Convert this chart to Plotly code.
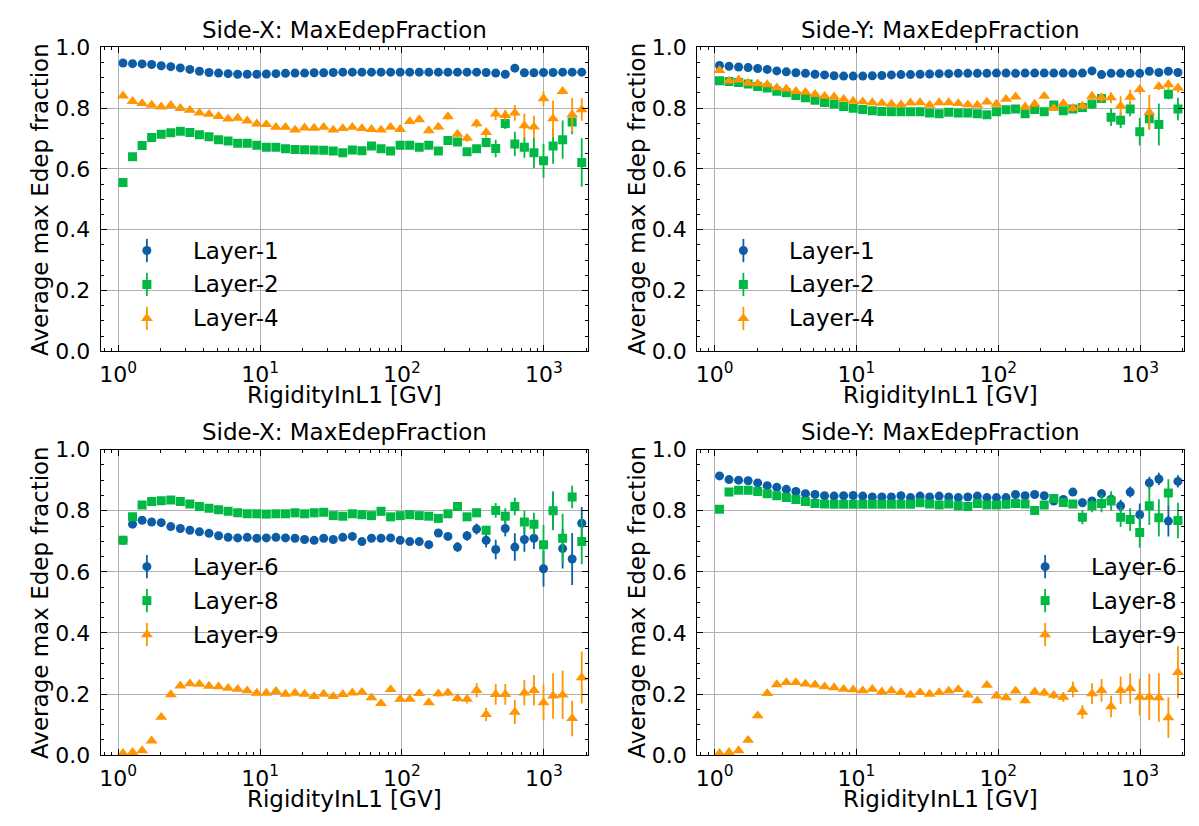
import plotly.graph_objects as go

W, H = 1199, 826
FONT = "DejaVu Sans"
BLUE, GREEN, ORANGE = "#0C5DA5", "#00B945", "#FF9500"

# Rigidity bin centres [GV]
rigidity = [1.081, 1.262, 1.474, 1.721, 2.010, 2.347, 2.741, 3.200, 3.737, 4.365,
            5.097, 5.952, 6.951, 8.117, 9.479, 11.07, 12.93, 15.10, 17.63, 20.59,
            24.04, 28.08, 32.79, 38.29, 44.71, 52.21, 60.97, 71.21, 83.15, 97.10,
            113.4, 132.4, 154.6, 180.6, 210.9, 246.3, 287.6, 335.9, 392.2, 458.0,
            534.9, 624.6, 729.4, 851.8, 994.7, 1162, 1357, 1584, 1850]

# ---- Side-X, layers 1 / 2 / 4 ----
sideX_L1 = [0.948, 0.946, 0.945, 0.943, 0.939, 0.936, 0.932, 0.927, 0.921, 0.917,
            0.915, 0.913, 0.911, 0.911, 0.911, 0.912, 0.913, 0.914, 0.915, 0.915,
            0.916, 0.916, 0.917, 0.918, 0.918, 0.918, 0.918, 0.918, 0.918, 0.918,
            0.918, 0.918, 0.918, 0.918, 0.918, 0.918, 0.918, 0.918, 0.917, 0.915,
            0.911, 0.931, 0.916, 0.916, 0.917, 0.917, 0.918, 0.918, 0.918]
sideX_L1_err = [0.002, 0.002, 0.002, 0.002, 0.002, 0.002, 0.002, 0.002, 0.002, 0.002,
                0.002, 0.002, 0.002, 0.002, 0.002, 0.002, 0.002, 0.002, 0.002, 0.002,
                0.002, 0.002, 0.002, 0.002, 0.002, 0.002, 0.002, 0.002, 0.002, 0.002,
                0.002, 0.002, 0.002, 0.002, 0.002, 0.002, 0.003, 0.003, 0.003, 0.004,
                0.004, 0.005, 0.005, 0.006, 0.006, 0.007, 0.008, 0.009, 0.010]
sideX_L2 = [0.555, 0.640, 0.677, 0.703, 0.714, 0.719, 0.724, 0.720, 0.712, 0.706,
            0.696, 0.692, 0.684, 0.684, 0.678, 0.671, 0.671, 0.666, 0.664, 0.663,
            0.662, 0.661, 0.659, 0.653, 0.662, 0.660, 0.675, 0.666, 0.659, 0.678,
            0.678, 0.671, 0.678, 0.659, 0.693, 0.688, 0.656, 0.666, 0.687, 0.667,
            0.749, 0.682, 0.671, 0.653, 0.627, 0.675, 0.696, 0.754, 0.621]
sideX_L2_err = [0.002, 0.002, 0.002, 0.002, 0.002, 0.002, 0.002, 0.002, 0.002, 0.002,
                0.002, 0.002, 0.002, 0.002, 0.002, 0.002, 0.003, 0.003, 0.003, 0.003,
                0.003, 0.003, 0.003, 0.004, 0.004, 0.004, 0.004, 0.005, 0.005, 0.005,
                0.006, 0.007, 0.008, 0.009, 0.010, 0.011, 0.012, 0.014, 0.016, 0.029,
                0.018, 0.040, 0.034, 0.050, 0.056, 0.058, 0.063, 0.040, 0.080]
sideX_L4 = [0.840, 0.822, 0.815, 0.810, 0.804, 0.809, 0.799, 0.793, 0.784, 0.780,
            0.773, 0.764, 0.767, 0.758, 0.748, 0.746, 0.737, 0.737, 0.728, 0.735,
            0.734, 0.737, 0.728, 0.733, 0.737, 0.733, 0.730, 0.728, 0.737, 0.730,
            0.756, 0.762, 0.726, 0.738, 0.772, 0.714, 0.701, 0.749, 0.720, 0.781,
            0.776, 0.784, 0.742, 0.738, 0.831, 0.765, 0.855, 0.778, 0.795]
sideX_L4_err = [0.002, 0.002, 0.002, 0.002, 0.002, 0.002, 0.002, 0.002, 0.002, 0.002,
                0.002, 0.002, 0.002, 0.002, 0.002, 0.002, 0.003, 0.003, 0.003, 0.003,
                0.003, 0.003, 0.003, 0.004, 0.004, 0.004, 0.004, 0.005, 0.005, 0.005,
                0.006, 0.007, 0.008, 0.009, 0.010, 0.011, 0.012, 0.013, 0.015, 0.021,
                0.018, 0.026, 0.040, 0.037, 0.024, 0.060, 0.010, 0.055, 0.037]

# ---- Side-Y, layers 1 / 2 / 4 ----
sideY_L1 = [0.940, 0.937, 0.935, 0.933, 0.930, 0.927, 0.922, 0.919, 0.916, 0.914,
            0.911, 0.909, 0.906, 0.905, 0.905, 0.905, 0.906, 0.907, 0.909, 0.910,
            0.910, 0.911, 0.912, 0.913, 0.913, 0.914, 0.914, 0.914, 0.914, 0.915,
            0.915, 0.914, 0.915, 0.915, 0.915, 0.915, 0.915, 0.914, 0.915, 0.922,
            0.910, 0.914, 0.914, 0.914, 0.914, 0.921, 0.917, 0.921, 0.917]
sideY_L1_err = [0.002, 0.002, 0.002, 0.002, 0.002, 0.002, 0.002, 0.002, 0.002, 0.002,
                0.002, 0.002, 0.002, 0.002, 0.002, 0.002, 0.002, 0.002, 0.002, 0.002,
                0.002, 0.002, 0.002, 0.002, 0.002, 0.002, 0.002, 0.002, 0.002, 0.002,
                0.002, 0.002, 0.002, 0.002, 0.002, 0.002, 0.003, 0.003, 0.003, 0.004,
                0.004, 0.005, 0.005, 0.006, 0.006, 0.007, 0.008, 0.009, 0.010]
sideY_L2 = [0.890, 0.887, 0.884, 0.879, 0.871, 0.866, 0.855, 0.850, 0.841, 0.834,
            0.826, 0.818, 0.813, 0.805, 0.799, 0.795, 0.791, 0.789, 0.788, 0.788,
            0.788, 0.788, 0.784, 0.781, 0.786, 0.784, 0.784, 0.781, 0.778, 0.788,
            0.794, 0.797, 0.781, 0.795, 0.788, 0.810, 0.791, 0.797, 0.802, 0.813,
            0.831, 0.770, 0.760, 0.797, 0.722, 0.765, 0.746, 0.845, 0.797]
sideY_L2_err = [0.002, 0.002, 0.002, 0.002, 0.002, 0.002, 0.002, 0.002, 0.002, 0.002,
                0.002, 0.002, 0.002, 0.002, 0.002, 0.002, 0.002, 0.002, 0.002, 0.002,
                0.003, 0.003, 0.003, 0.003, 0.003, 0.003, 0.004, 0.004, 0.004, 0.005,
                0.005, 0.006, 0.006, 0.007, 0.008, 0.009, 0.010, 0.012, 0.014, 0.016,
                0.014, 0.029, 0.026, 0.024, 0.045, 0.034, 0.069, 0.016, 0.037]
sideY_L4 = [0.924, 0.889, 0.893, 0.882, 0.880, 0.877, 0.867, 0.863, 0.855, 0.852,
            0.845, 0.839, 0.837, 0.829, 0.823, 0.821, 0.818, 0.816, 0.813, 0.811,
            0.817, 0.818, 0.810, 0.818, 0.818, 0.815, 0.811, 0.810, 0.820, 0.813,
            0.829, 0.837, 0.804, 0.813, 0.839, 0.799, 0.815, 0.799, 0.807, 0.839,
            0.834, 0.834, 0.807, 0.836, 0.861, 0.786, 0.871, 0.877, 0.866]
sideY_L4_err = [0.002, 0.002, 0.002, 0.002, 0.002, 0.002, 0.002, 0.002, 0.002, 0.002,
                0.002, 0.002, 0.002, 0.002, 0.002, 0.002, 0.002, 0.002, 0.002, 0.002,
                0.003, 0.003, 0.003, 0.003, 0.003, 0.003, 0.004, 0.004, 0.004, 0.005,
                0.005, 0.006, 0.006, 0.007, 0.007, 0.008, 0.009, 0.010, 0.012, 0.015,
                0.015, 0.018, 0.032, 0.024, 0.015, 0.058, 0.012, 0.015, 0.015]

# ---- Side-X, layers 6 / 8 / 9 ----
sideX_L6 = [0.703, 0.756, 0.769, 0.763, 0.761, 0.748, 0.742, 0.736, 0.731, 0.726,
            0.718, 0.713, 0.711, 0.713, 0.710, 0.711, 0.713, 0.711, 0.710, 0.706,
            0.703, 0.710, 0.706, 0.713, 0.716, 0.699, 0.710, 0.710, 0.711, 0.703,
            0.699, 0.699, 0.689, 0.727, 0.716, 0.681, 0.718, 0.740, 0.703, 0.673,
            0.742, 0.681, 0.706, 0.710, 0.610, 0.800, 0.676, 0.642, 0.759]
sideX_L6_err = [0.002, 0.002, 0.002, 0.002, 0.002, 0.002, 0.002, 0.002, 0.002, 0.002,
                0.002, 0.002, 0.002, 0.002, 0.002, 0.002, 0.003, 0.003, 0.003, 0.003,
                0.003, 0.003, 0.003, 0.004, 0.004, 0.004, 0.004, 0.005, 0.005, 0.005,
                0.005, 0.006, 0.008, 0.010, 0.012, 0.016, 0.016, 0.018, 0.023, 0.032,
                0.026, 0.045, 0.040, 0.035, 0.058, 0.060, 0.065, 0.085, 0.053]
sideX_L8 = [0.703, 0.780, 0.819, 0.830, 0.833, 0.835, 0.830, 0.822, 0.814, 0.808,
            0.803, 0.798, 0.793, 0.790, 0.790, 0.789, 0.790, 0.790, 0.793, 0.790,
            0.793, 0.795, 0.784, 0.782, 0.790, 0.787, 0.784, 0.798, 0.780, 0.784,
            0.787, 0.784, 0.782, 0.775, 0.790, 0.814, 0.780, 0.793, 0.736, 0.801,
            0.782, 0.814, 0.763, 0.756, 0.689, 0.800, 0.710, 0.845, 0.699]
sideX_L8_err = [0.002, 0.002, 0.002, 0.002, 0.002, 0.002, 0.002, 0.002, 0.002, 0.002,
                0.002, 0.002, 0.002, 0.002, 0.002, 0.002, 0.003, 0.003, 0.003, 0.003,
                0.003, 0.003, 0.003, 0.004, 0.004, 0.004, 0.004, 0.005, 0.005, 0.005,
                0.005, 0.006, 0.007, 0.008, 0.009, 0.010, 0.011, 0.012, 0.015, 0.024,
                0.026, 0.029, 0.037, 0.037, 0.064, 0.064, 0.080, 0.037, 0.074]
sideX_L9 = [0.006, 0.009, 0.015, 0.047, 0.124, 0.198, 0.227, 0.234, 0.232, 0.226,
            0.224, 0.219, 0.216, 0.211, 0.203, 0.203, 0.209, 0.200, 0.203, 0.200,
            0.192, 0.200, 0.192, 0.199, 0.204, 0.206, 0.188, 0.169, 0.215, 0.183,
            0.183, 0.202, 0.172, 0.201, 0.204, 0.186, 0.183, 0.212, 0.133, 0.199,
            0.199, 0.141, 0.204, 0.212, 0.172, 0.194, 0.197, 0.120, 0.254]
sideX_L9_err = [0.002, 0.002, 0.002, 0.002, 0.002, 0.002, 0.002, 0.002, 0.002, 0.002,
                0.002, 0.002, 0.002, 0.002, 0.002, 0.002, 0.003, 0.003, 0.003, 0.003,
                0.003, 0.003, 0.003, 0.004, 0.004, 0.004, 0.004, 0.005, 0.005, 0.005,
                0.005, 0.006, 0.008, 0.009, 0.010, 0.012, 0.014, 0.023, 0.022, 0.034,
                0.034, 0.039, 0.042, 0.050, 0.058, 0.074, 0.079, 0.058, 0.085]

# ---- Side-Y, layers 6 / 8 / 9 ----
sideY_L6 = [0.914, 0.902, 0.900, 0.898, 0.891, 0.882, 0.877, 0.870, 0.863, 0.856,
            0.853, 0.849, 0.848, 0.849, 0.850, 0.848, 0.845, 0.845, 0.845, 0.849,
            0.843, 0.848, 0.845, 0.848, 0.845, 0.843, 0.845, 0.848, 0.843, 0.843,
            0.843, 0.853, 0.849, 0.853, 0.849, 0.832, 0.837, 0.861, 0.826, 0.832,
            0.856, 0.838, 0.816, 0.861, 0.787, 0.891, 0.904, 0.766, 0.896]
sideY_L6_err = [0.002, 0.002, 0.002, 0.002, 0.002, 0.002, 0.002, 0.002, 0.002, 0.002,
                0.002, 0.002, 0.002, 0.002, 0.002, 0.002, 0.002, 0.002, 0.002, 0.002,
                0.003, 0.003, 0.003, 0.003, 0.003, 0.003, 0.004, 0.004, 0.004, 0.005,
                0.005, 0.005, 0.006, 0.006, 0.007, 0.008, 0.010, 0.012, 0.014, 0.012,
                0.015, 0.015, 0.020, 0.018, 0.037, 0.020, 0.020, 0.050, 0.020]
sideY_L8 = [0.805, 0.861, 0.867, 0.867, 0.863, 0.856, 0.849, 0.843, 0.837, 0.830,
            0.824, 0.822, 0.821, 0.821, 0.821, 0.821, 0.821, 0.821, 0.821, 0.821,
            0.821, 0.826, 0.822, 0.819, 0.822, 0.816, 0.814, 0.824, 0.819, 0.819,
            0.821, 0.824, 0.822, 0.801, 0.819, 0.840, 0.827, 0.822, 0.779, 0.816,
            0.824, 0.832, 0.779, 0.771, 0.729, 0.816, 0.777, 0.858, 0.768]
sideY_L8_err = [0.002, 0.002, 0.002, 0.002, 0.002, 0.002, 0.002, 0.002, 0.002, 0.002,
                0.002, 0.002, 0.002, 0.002, 0.002, 0.002, 0.002, 0.002, 0.002, 0.002,
                0.003, 0.003, 0.003, 0.003, 0.003, 0.003, 0.004, 0.004, 0.004, 0.005,
                0.005, 0.006, 0.007, 0.010, 0.008, 0.009, 0.010, 0.012, 0.023, 0.021,
                0.029, 0.032, 0.032, 0.037, 0.050, 0.063, 0.061, 0.045, 0.058]
sideY_L9 = [0.006, 0.009, 0.015, 0.049, 0.129, 0.202, 0.231, 0.238, 0.238, 0.233,
            0.230, 0.224, 0.221, 0.216, 0.214, 0.211, 0.216, 0.207, 0.211, 0.205,
            0.197, 0.205, 0.200, 0.205, 0.210, 0.215, 0.197, 0.178, 0.229, 0.194,
            0.188, 0.210, 0.178, 0.207, 0.204, 0.196, 0.190, 0.215, 0.141, 0.201,
            0.212, 0.159, 0.212, 0.218, 0.190, 0.190, 0.188, 0.123, 0.271]
sideY_L9_err = [0.002, 0.002, 0.002, 0.002, 0.002, 0.002, 0.002, 0.002, 0.002, 0.002,
                0.002, 0.002, 0.002, 0.002, 0.002, 0.002, 0.003, 0.003, 0.003, 0.003,
                0.003, 0.003, 0.003, 0.004, 0.004, 0.004, 0.004, 0.005, 0.005, 0.005,
                0.005, 0.006, 0.008, 0.009, 0.010, 0.012, 0.015, 0.026, 0.023, 0.034,
                0.037, 0.035, 0.045, 0.050, 0.060, 0.076, 0.079, 0.066, 0.085]

x_tickvals = [1, 10, 100, 1000]
x_ticktext = ["10<sup>0</sup>", "10<sup>1</sup>", "10<sup>2</sup>", "10<sup>3</sup>"]
y_tickvals = [0.0, 0.2, 0.4, 0.6, 0.8, 1.0]
x_range_log = [-0.124, 3.31]

STYLES = [("circle", BLUE, 9), ("square", GREEN, 9), ("triangle-up", ORANGE, 10.5)]

# panel geometry in pixels: left, right, top, bottom; legend marker x and first row y
panels = [
    dict(title="Side-X: MaxEdepFraction", box=(99.7, 587.3, 36.3, 350),
         series=[("Layer-1", sideX_L1, sideX_L1_err), ("Layer-2", sideX_L2, sideX_L2_err),
                 ("Layer-4", sideX_L4, sideX_L4_err)], leg=(146, 246)),
    dict(title="Side-Y: MaxEdepFraction", box=(696.7, 1184, 36.3, 350),
         series=[("Layer-1", sideY_L1, sideY_L1_err), ("Layer-2", sideY_L2, sideY_L2_err),
                 ("Layer-4", sideY_L4, sideY_L4_err)], leg=(743, 246)),
    dict(title="Side-X: MaxEdepFraction", box=(99.7, 587.3, 451.3, 766.3),
         series=[("Layer-6", sideX_L6, sideX_L6_err), ("Layer-8", sideX_L8, sideX_L8_err),
                 ("Layer-9", sideX_L9, sideX_L9_err)], leg=(146, 572)),
    dict(title="Side-Y: MaxEdepFraction", box=(696.7, 1184, 451.3, 766.3),
         series=[("Layer-6", sideY_L6, sideY_L6_err), ("Layer-8", sideY_L8, sideY_L8_err),
                 ("Layer-9", sideY_L9, sideY_L9_err)], leg=(1045, 572)),
]


def px(x):
    return x / W


def py(y):
    return (H - y) / H


fig = go.Figure()
annotations, shapes = [], []
layout_axes = {}

for i, p in enumerate(panels, start=1):
    xa = "x" if i == 1 else f"x{i}"
    ya = "y" if i == 1 else f"y{i}"
    l, r, t, b = p["box"]
    for (name, vals, errs), (sym, col, size) in zip(p["series"], STYLES):
        fig.add_trace(go.Scatter(
            x=rigidity, y=vals, mode="markers", name=name, xaxis=xa, yaxis=ya,
            marker=dict(symbol=sym, color=col, size=size, line=dict(width=0)),
            error_y=dict(type="data", array=errs, color=col, thickness=1.8, width=0),
            showlegend=False))

    common = dict(showline=True, linecolor="black", linewidth=1, mirror="allticks",
                  ticks="inside", ticklen=6, tickwidth=1, tickcolor="black",
                  showgrid=True, gridcolor="#b0b0b0", gridwidth=0.8, zeroline=False,
                  tickfont=dict(family=FONT, size=22, color="black"))
    layout_axes["xaxis" if i == 1 else f"xaxis{i}"] = dict(
        common, type="log", range=x_range_log, domain=[px(l), px(r)],
        anchor=ya, tickmode="array", tickvals=x_tickvals, ticktext=x_ticktext,
        ticklabelstandoff=3,
        minor=dict(ticks="inside", ticklen=3, tickwidth=1, tickcolor="black",
                   dtick="D1", showgrid=False))
    layout_axes["yaxis" if i == 1 else f"yaxis{i}"] = dict(
        common, range=[0, 1], domain=[py(b), py(t)], anchor=xa,
        tickmode="array", tickvals=y_tickvals, tickformat=".1f",
        ticklabelstandoff=5,
        minor=dict(ticks="inside", ticklen=3, tickwidth=1, tickcolor="black",
                   dtick=0.05, showgrid=False))

    cx = (l + r) / 2
    annotations.append(dict(text=p["title"], x=px(cx), y=py(t - 18), xref="paper", yref="paper",
                            xanchor="center", yanchor="middle", showarrow=False,
                            font=dict(family=FONT, size=23, color="black")))
    annotations.append(dict(text="RigidityInL1 [GV]", x=px(cx), y=py(b + 45), xref="paper",
                            yref="paper", xanchor="center", yanchor="middle", showarrow=False,
                            font=dict(family=FONT, size=23, color="black")))
    annotations.append(dict(text="Average max Edep fraction", x=px(l - 60), y=py((t + b) / 2),
                            xref="paper", yref="paper", xanchor="center", yanchor="middle",
                            textangle=-90, showarrow=False,
                            font=dict(family=FONT, size=23, color="black")))

    # legend: marker with a vertical error stroke, followed by the label
    mx, my0 = p["leg"]
    for j, ((name, _, _), (sym, col, size)) in enumerate(zip(p["series"], STYLES)):
        my = my0 + 35 * j
        shapes.append(dict(type="line", xref="paper", yref="paper",
                           x0=px(mx), x1=px(mx), y0=py(my - 12), y1=py(my + 12),
                           line=dict(color=col, width=1.8)))
        marker = dict(xref="paper", yref="paper", xsizemode="pixel", ysizemode="pixel",
                      xanchor=px(mx), yanchor=py(my), fillcolor=col, line=dict(width=0))
        if sym == "circle":
            marker.update(type="circle", x0=-4.5, x1=4.5, y0=-4.5, y1=4.5)
        elif sym == "square":
            marker.update(type="rect", x0=-4.5, x1=4.5, y0=-4.5, y1=4.5)
        else:
            marker.update(type="path", path="M-6.06,-2.62 L6.06,-2.62 L0,5.25 Z")
        shapes.append(marker)
        annotations.append(dict(text=name, x=px(mx + 44), y=py(my), xref="paper", yref="paper",
                                xanchor="left", yanchor="middle", showarrow=False,
                                font=dict(family=FONT, size=23, color="black")))

fig.update_layout(
    width=W, height=H, margin=dict(l=0, r=0, t=0, b=0),
    paper_bgcolor="white", plot_bgcolor="white", showlegend=False,
    annotations=annotations, shapes=shapes, **layout_axes)

fig.write_html("out.html")
